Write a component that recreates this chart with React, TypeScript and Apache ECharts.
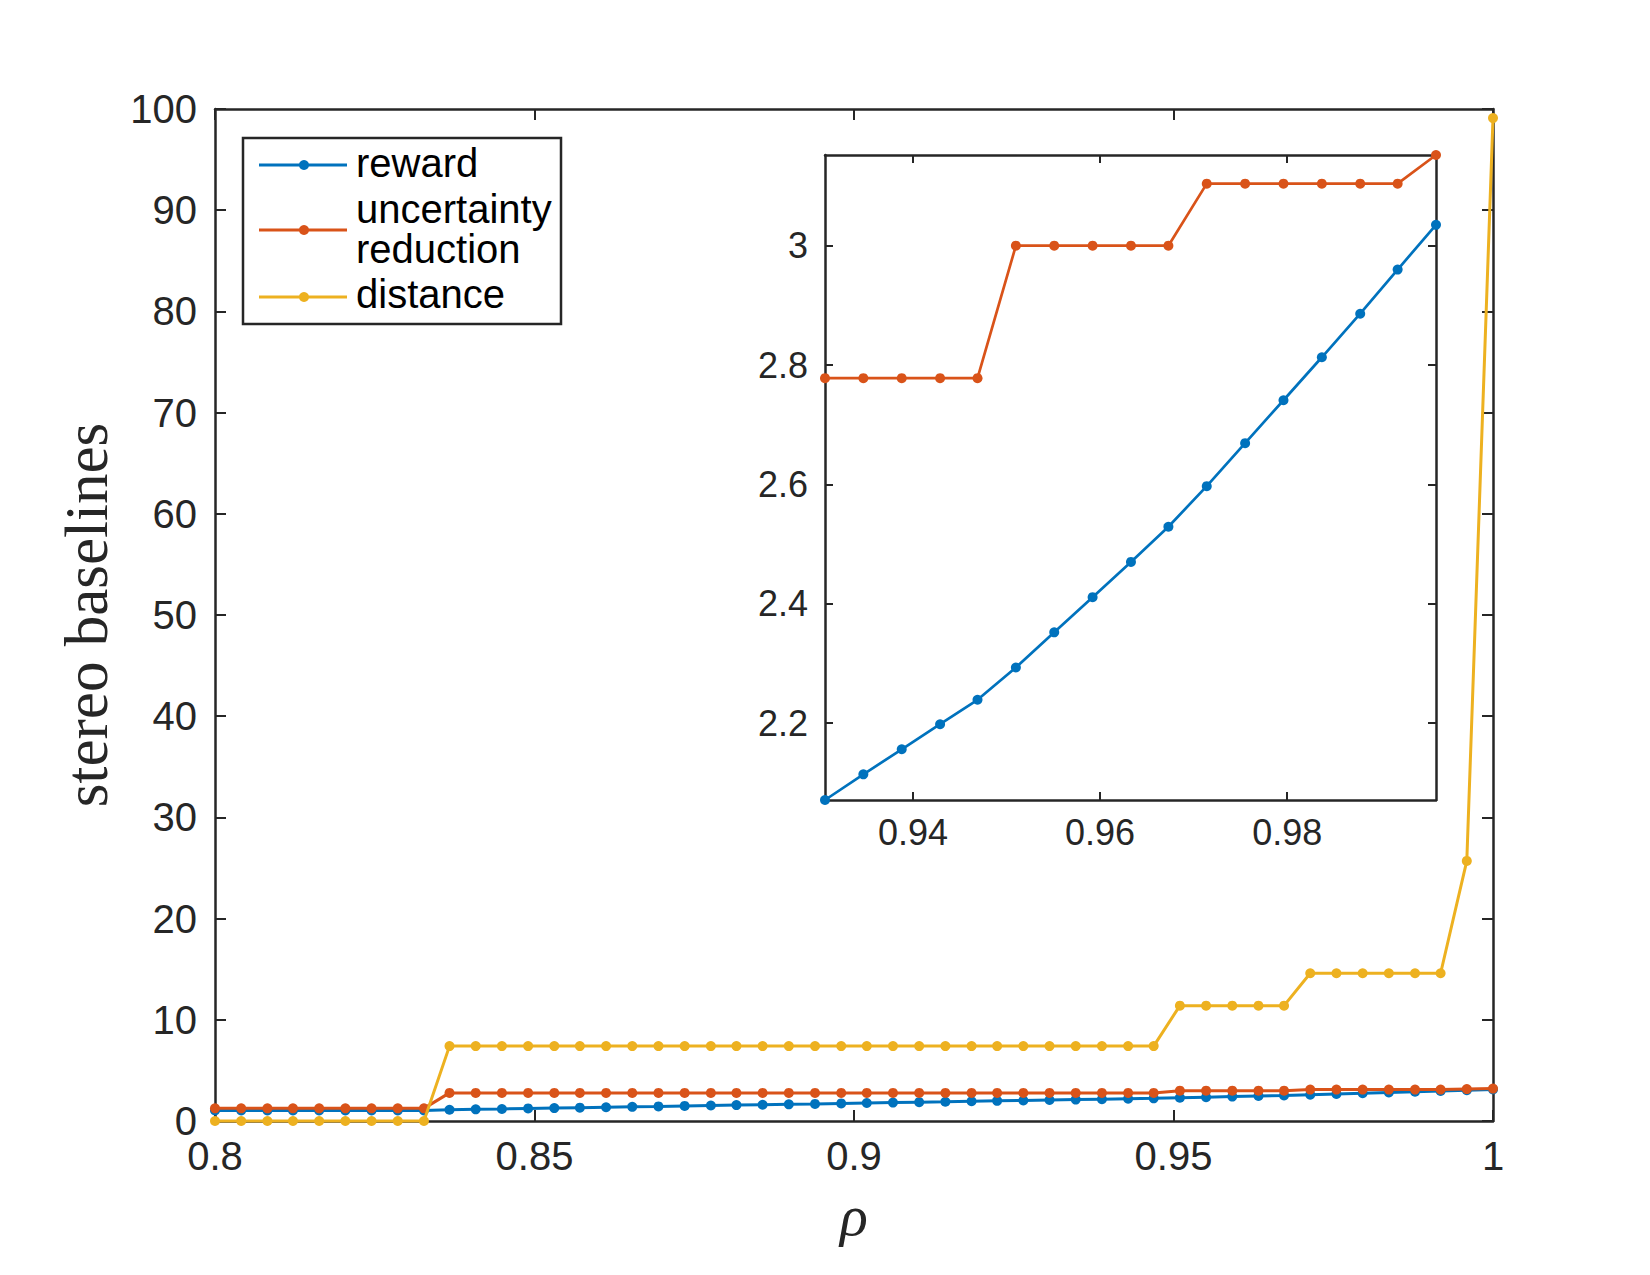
import React, { useEffect, useRef } from "react";
import * as echarts from "echarts";

const rho = [
  0.8, 0.8041, 0.8082, 0.8122, 0.8163, 0.8204, 0.8245, 0.8286, 0.8327, 0.8367,
  0.8408, 0.8449, 0.849, 0.8531, 0.8571, 0.8612, 0.8653, 0.8694, 0.8735, 0.8776,
  0.8816, 0.8857, 0.8898, 0.8939, 0.898, 0.902, 0.9061, 0.9102, 0.9143, 0.9184,
  0.9224, 0.9265, 0.9306, 0.9347, 0.9388, 0.9429, 0.9469, 0.951, 0.9551, 0.9592,
  0.9633, 0.9673, 0.9714, 0.9755, 0.9796, 0.9837, 0.9878, 0.9918, 0.9959, 1.0,
];

const reward = [
  1.04, 1.04, 1.04, 1.04, 1.04, 1.04, 1.04, 1.04, 1.04, 1.11,
  1.15, 1.19, 1.24, 1.28, 1.32, 1.36, 1.4, 1.44, 1.49, 1.53,
  1.57, 1.61, 1.65, 1.69, 1.74, 1.78, 1.82, 1.86, 1.9, 1.95,
  1.99, 2.03, 2.071, 2.114, 2.156, 2.198, 2.239, 2.293, 2.352, 2.411,
  2.47, 2.529, 2.597, 2.669, 2.741, 2.813, 2.886, 2.96, 3.035, 3.11,
];

const uncertainty = [
  1.25, 1.25, 1.25, 1.25, 1.25, 1.25, 1.25, 1.25, 1.25, 2.778,
  2.778, 2.778, 2.778, 2.778, 2.778, 2.778, 2.778, 2.778, 2.778, 2.778,
  2.778, 2.778, 2.778, 2.778, 2.778, 2.778, 2.778, 2.778, 2.778, 2.778,
  2.778, 2.778, 2.778, 2.778, 2.778, 2.778, 2.778, 3.0, 3.0, 3.0,
  3.0, 3.0, 3.104, 3.104, 3.104, 3.104, 3.104, 3.104, 3.152, 3.2,
];

const distance = [
  0, 0, 0, 0, 0, 0, 0, 0, 0, 7.4,
  7.4, 7.4, 7.4, 7.4, 7.4, 7.4, 7.4, 7.4, 7.4, 7.4,
  7.4, 7.4, 7.4, 7.4, 7.4, 7.4, 7.4, 7.4, 7.4, 7.4,
  7.4, 7.4, 7.4, 7.4, 7.4, 7.4, 7.4, 11.4, 11.4, 11.4,
  11.4, 11.4, 14.6, 14.6, 14.6, 14.6, 14.6, 14.6, 25.7, 99.1,
];

const seriesNames = ["reward", "uncertainty\nreduction", "distance"];
const insetStart = 32;
const insetEnd = 48;
const insetXTicks = [0.94, 0.96, 0.98];
const insetYTicks = [2.2, 2.4, 2.6, 2.8, 3.0];

const COLORS = ["#0072BD", "#D95319", "#EDB120"];
const AX = "#262626";
const SANS = "'Liberation Sans', Arial, Helvetica, sans-serif";
const SERIF = "'Liberation Serif', 'Times New Roman', serif";

function pairs(xs: number[], ys: number[], a = 0, b = xs.length - 1) {
  const out: number[][] = [];
  for (let i = a; i <= b; i++) out.push([xs[i], ys[i]]);
  return out;
}

export default function App() {
  const ref = useRef<HTMLDivElement>(null);
  useEffect(() => {
    if (!ref.current) return;
    const chart = echarts.init(ref.current, null, { renderer: "svg" });
    const lineStyle = { color: AX, width: 2.5 };
    const mainAxisBase = {
      type: "value",
      axisLine: { show: true, onZero: false, lineStyle },
      axisTick: { show: true, inside: true, length: 11, lineStyle: { color: AX, width: 2 } },
      splitLine: { show: false },
    };
    const insetAxisBase = {
      type: "value",
      axisLine: { show: true, onZero: false, lineStyle },
      axisTick: { show: true, inside: true, length: 8, lineStyle: { color: AX, width: 2 } },
      splitLine: { show: false },
    };
    const mainSeries = [reward, uncertainty, distance].map((ys, i) => ({
      name: seriesNames[i],
      type: "line",
      xAxisIndex: 0,
      yAxisIndex: 0,
      data: pairs(rho, ys),
      symbol: "circle",
      symbolSize: 10,
      showSymbol: true,
      clip: false,
      lineStyle: { color: COLORS[i], width: 3 },
      itemStyle: { color: COLORS[i] },
      z: 3 + i,
    }));
    const insetSeries = [reward, uncertainty].map((ys, i) => ({
      name: seriesNames[i] + " (inset)",
      type: "line",
      xAxisIndex: 2,
      yAxisIndex: 2,
      data: pairs(rho, ys, insetStart, insetEnd),
      symbol: "circle",
      symbolSize: 10,
      showSymbol: true,
      clip: false,
      lineStyle: { color: COLORS[i], width: 2.7 },
      itemStyle: { color: COLORS[i] },
      z: 10 + i,
    }));

    const legendRows = [
      { lineY: 165, texts: [{ t: "reward", y: 163 }] },
      { lineY: 230, texts: [{ t: "uncertainty", y: 209 }, { t: "reduction", y: 249 }] },
      { lineY: 297, texts: [{ t: "distance", y: 294 }] },
    ];
    const legendChildren: any[] = [
      {
        type: "rect",
        shape: { x: 243, y: 138, width: 318, height: 186 },
        style: { fill: "#fff", stroke: AX, lineWidth: 2.5 },
      },
    ];
    legendRows.forEach((row, i) => {
      legendChildren.push({
        type: "line",
        shape: { x1: 259, y1: row.lineY, x2: 347, y2: row.lineY },
        style: { stroke: COLORS[i], lineWidth: 3 },
      });
      legendChildren.push({
        type: "circle",
        shape: { cx: 304, cy: row.lineY, r: 5 },
        style: { fill: COLORS[i] },
      });
      row.texts.forEach((tx) => {
        legendChildren.push({
          type: "text",
          x: 356,
          y: tx.y,
          style: {
            text: tx.t,
            font: `40px ${SANS}`,
            fill: "#000",
            textAlign: "left",
            textVerticalAlign: "middle",
          },
        });
      });
    });

    chart.setOption({
      animation: false,
      backgroundColor: "#fff",
      grid: [
        { left: 215, top: 109, width: 1278, height: 1012, show: false },
        { left: 825, top: 155, width: 611, height: 645, show: true, backgroundColor: "#fff", borderWidth: 0 },
      ],
      xAxis: [
        {
          ...mainAxisBase,
          gridIndex: 0,
          position: "bottom",
          min: 0.8,
          max: 1,
          interval: 0.05,
          axisLabel: { show: true, fontSize: 40, fontFamily: SANS, color: AX, margin: 15 },
        },
        {
          ...mainAxisBase,
          gridIndex: 0,
          position: "top",
          min: 0.8,
          max: 1,
          interval: 0.05,
          axisLabel: { show: false },
        },
        {
          ...insetAxisBase,
          gridIndex: 1,
          position: "bottom",
          min: rho[insetStart],
          max: rho[insetEnd],
          axisTick: { ...insetAxisBase.axisTick, customValues: insetXTicks },
          axisLabel: { show: true, fontSize: 36, fontFamily: SANS, color: AX, margin: 14, customValues: insetXTicks },
        },
        {
          ...insetAxisBase,
          gridIndex: 1,
          position: "top",
          min: rho[insetStart],
          max: rho[insetEnd],
          axisTick: { ...insetAxisBase.axisTick, customValues: insetXTicks },
          axisLabel: { show: false },
        },
      ],
      yAxis: [
        {
          ...mainAxisBase,
          gridIndex: 0,
          position: "left",
          min: 0,
          max: 100,
          interval: 10,
          axisLabel: { show: true, fontSize: 40, fontFamily: SANS, color: AX, margin: 18 },
        },
        {
          ...mainAxisBase,
          gridIndex: 0,
          position: "right",
          min: 0,
          max: 100,
          interval: 10,
          axisLabel: { show: false },
        },
        {
          ...insetAxisBase,
          gridIndex: 1,
          position: "left",
          min: reward[insetStart],
          max: uncertainty[insetEnd],
          axisTick: { ...insetAxisBase.axisTick, customValues: insetYTicks },
          axisLabel: { show: true, fontSize: 36, fontFamily: SANS, color: AX, margin: 17, customValues: insetYTicks },
        },
        {
          ...insetAxisBase,
          gridIndex: 1,
          position: "right",
          min: reward[insetStart],
          max: uncertainty[insetEnd],
          axisTick: { ...insetAxisBase.axisTick, customValues: insetYTicks },
          axisLabel: { show: false },
        },
      ],
      series: [...mainSeries, ...insetSeries],
      graphic: [
        {
          type: "text",
          x: 86,
          y: 615,
          rotation: Math.PI / 2,
          style: {
            text: "stereo baselines",
            font: `61px ${SERIF}`,
            fill: AX,
            textAlign: "center",
            textVerticalAlign: "middle",
          },
        },
        {
          type: "text",
          x: 854,
          y: 1215,
          style: {
            text: "ρ",
            font: `italic 58px ${SERIF}`,
            fill: AX,
            textAlign: "center",
            textVerticalAlign: "middle",
          },
        },
        { type: "group", children: legendChildren, z: 100 },
      ],
    });
    return () => chart.dispose();
  }, []);
  return (
    <div
      ref={ref}
      style={{ position: "absolute", left: 0, top: 0, width: 1650, height: 1275, background: "#fff" }}
    />
  );
}
